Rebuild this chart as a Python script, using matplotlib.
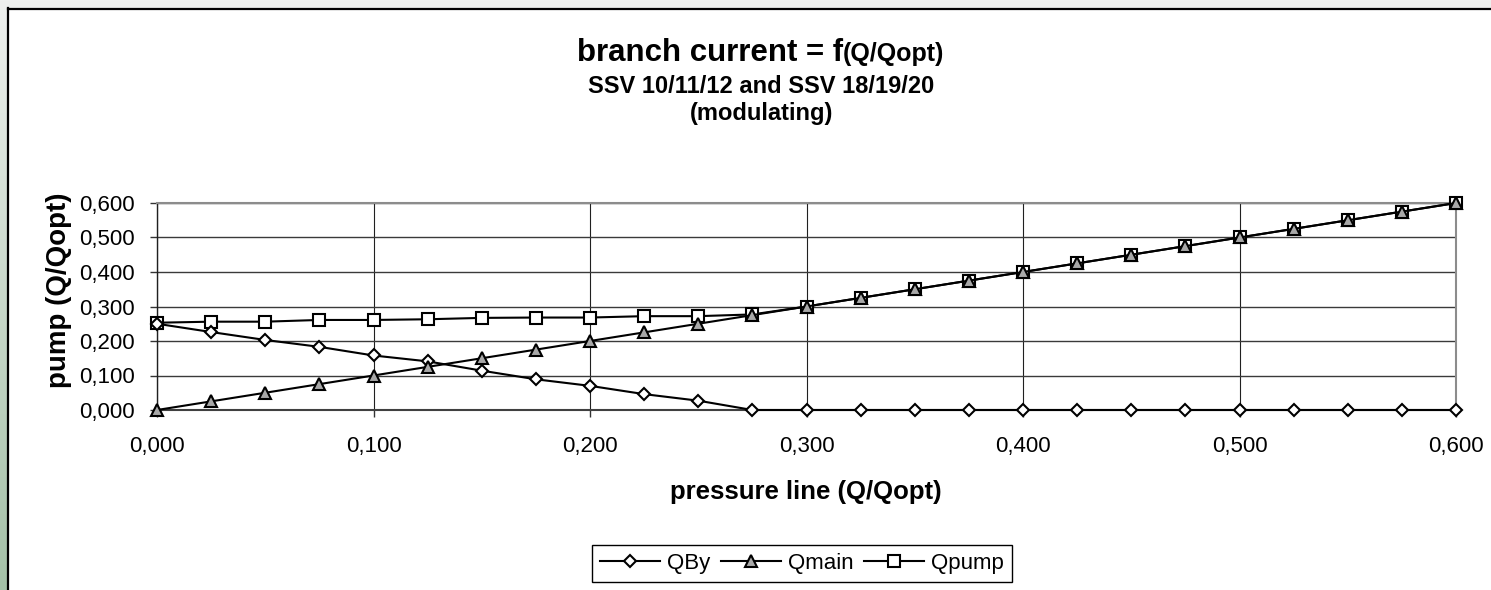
import numpy as np
import matplotlib
matplotlib.use("Agg")
import matplotlib.pyplot as plt
from matplotlib.patches import Rectangle
from matplotlib.lines import Line2D

# --- data ---
x = [0.000, 0.025, 0.050, 0.075, 0.100, 0.125, 0.150, 0.175, 0.200, 0.225, 0.250, 0.275,
     0.300, 0.325, 0.350, 0.375, 0.400, 0.425, 0.450, 0.475, 0.500, 0.525, 0.550, 0.575, 0.600]
qby = [0.250, 0.226, 0.203, 0.183, 0.158, 0.141, 0.114, 0.089, 0.070, 0.046, 0.027, 0.000,
       0.000, 0.000, 0.000, 0.000, 0.000, 0.000, 0.000, 0.000, 0.000, 0.000, 0.000, 0.000, 0.000]
qmain = [0.000, 0.025, 0.050, 0.075, 0.100, 0.125, 0.150, 0.175, 0.200, 0.225, 0.250, 0.275,
         0.300, 0.325, 0.350, 0.375, 0.400, 0.425, 0.450, 0.475, 0.500, 0.525, 0.550, 0.575, 0.600]
qpump = [0.253, 0.256, 0.256, 0.261, 0.261, 0.263, 0.267, 0.268, 0.268, 0.272, 0.272, 0.277,
         0.300, 0.325, 0.350, 0.375, 0.400, 0.425, 0.450, 0.475, 0.500, 0.525, 0.550, 0.575, 0.600]

x_ticks = [0.0, 0.1, 0.2, 0.3, 0.4, 0.5, 0.6]
x_ticklabels = ["0,000", "0,100", "0,200", "0,300", "0,400", "0,500", "0,600"]
y_ticks = [0.0, 0.1, 0.2, 0.3, 0.4, 0.5, 0.6]
y_ticklabels = ["0,000", "0,100", "0,200", "0,300", "0,400", "0,500", "0,600"]

plt.rcParams['font.family'] = ['Liberation Sans', 'DejaVu Sans']

W, H = 1491, 590
fig = plt.figure(figsize=(W / 100, H / 100), dpi=100)

# --- background: greenish frame on the left, white chart area ---
bg = fig.add_axes([0, 0, 1, 1], zorder=-10)
bg.axis('off')
top_c = np.array([238, 240, 238]) / 255
bot_c = np.array([164, 193, 167]) / 255
t = np.linspace(0, 1, 256)[:, None]
grad = top_c[None, :] * (1 - t) + bot_c[None, :] * t
bg.imshow(grad[:, None, :], extent=[0, W, H, 0], aspect='auto')
bg.add_patch(Rectangle((7.5, 8.5), W + 40, H + 40, facecolor='white', edgecolor='none'))
bg.set_xlim(0, W)
bg.set_ylim(H, 0)
# black border of the chart area (left and top only, the rest is cut off)
fig.add_artist(Line2D([8 / W, 8 / W], [0, 1 - 8 / H], color='black', lw=1.6))
fig.add_artist(Line2D([8 / W, 1], [1 - 8.5 / H, 1 - 8.5 / H], color='black', lw=1.6))

# --- plot area ---
ax = fig.add_axes([157 / W, 1 - 410 / H, (1456 - 157) / W, (410 - 203) / H])

ax.plot(x, qpump, color='black', lw=1.5, marker='s', ms=8.0, mfc='white', mec='black',
        mew=1.5, label='Qpump', zorder=3, clip_on=False)
ax.plot(x, qby, color='black', lw=1.5, marker='D', ms=6.6, mfc='white', mec='black',
        mew=1.5, label='QBy', zorder=4, clip_on=False)
ax.plot(x, qmain, color='black', lw=1.5, marker='^', ms=9.0, mfc='#a8a8a8', mec='black',
        mew=1.5, label='Qmain', zorder=5, clip_on=False)

ax.set_xlim(0, 0.6)
ax.set_ylim(0, 0.6)
ax.set_xticks(x_ticks)
ax.set_xticklabels(x_ticklabels)
ax.set_yticks(y_ticks)
ax.set_yticklabels(y_ticklabels)
ax.tick_params(axis='both', direction='out', length=5, width=1, color='#333333',
               labelsize=16)
ax.tick_params(axis='x', pad=14)
ax.tick_params(axis='y', pad=11)

ax.grid(axis='y', color='#3a3a3a', lw=1.0)
ax.grid(axis='x', color='#202020', lw=0.8)
ax.set_axisbelow(True)

for side in ['top', 'right']:
    ax.spines[side].set_color('#8c8c8c')
    ax.spines[side].set_linewidth(1.5)
ax.spines['left'].set_color('#202020')
ax.spines['left'].set_linewidth(1.0)
ax.spines['bottom'].set_color('#404040')
ax.spines['bottom'].set_linewidth(1.5)

# --- titles and axis labels ---
split_x = 843 / W
fig.text(split_x, 1 - 61 / H, "branch current = f", fontsize=22.5, fontweight='bold',
         ha='right', va='baseline')
fig.text(split_x, 1 - 61 / H, "(Q/Qopt)", fontsize=18, fontweight='bold',
         ha='left', va='baseline')
fig.text(761 / W, 1 - 93 / H, "SSV 10/11/12 and SSV 18/19/20", fontsize=17,
         fontweight='bold', ha='center', va='baseline')
fig.text(762 / W, 1 - 120 / H, "(modulating)", fontsize=17, fontweight='bold',
         ha='center', va='baseline')

fig.text(805.5 / W, 1 - 492 / H, "pressure line (Q/Qopt)", fontsize=18.5, fontweight='bold',
         ha='center', va='center')
fig.text(59 / W, 1 - 290 / H, "pump (Q/Qopt)", fontsize=20, fontweight='bold',
         rotation=90, ha='center', va='center')

# --- legend ---
handles, labels = ax.get_legend_handles_labels()
order = [labels.index(n) for n in ['QBy', 'Qmain', 'Qpump']]
leg = fig.legend([handles[i] for i in order], [labels[i] for i in order],
                 loc='center', bbox_to_anchor=(802 / W, 1 - 563.5 / H), ncol=3,
                 fontsize=16, frameon=True, fancybox=False, framealpha=1,
                 edgecolor='black', handlelength=2.7, handletextpad=0.3,
                 columnspacing=0.5, borderpad=0.35, borderaxespad=0)
leg.get_frame().set_linewidth(1.0)

fig.savefig("out.png", dpi=100)
